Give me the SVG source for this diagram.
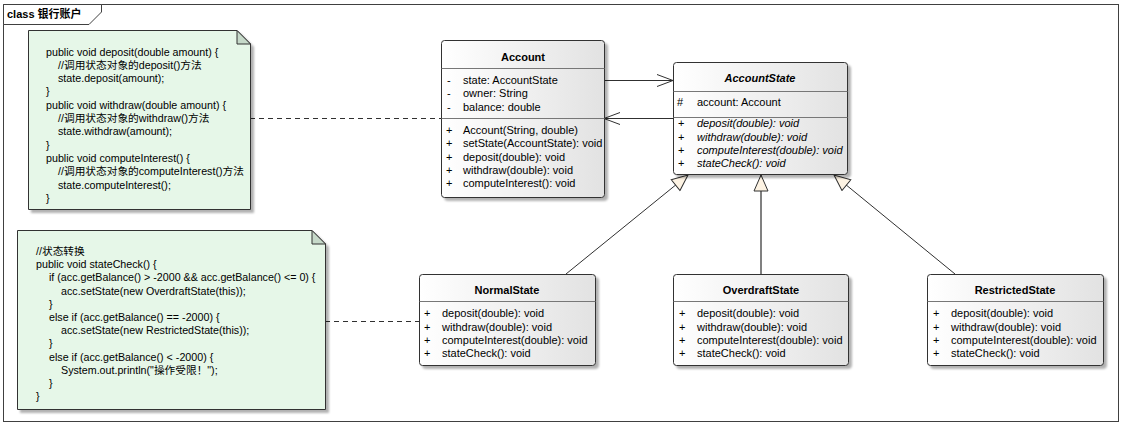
<svg xmlns="http://www.w3.org/2000/svg" width="1123" height="427" viewBox="0 0 1123 427">
  <defs>
    <linearGradient id="classFill" x1="0" y1="0" x2="1" y2="0">
      <stop offset="0" stop-color="#ffffff"/>
      <stop offset="1" stop-color="#e2e2e2"/>
    </linearGradient>
    <filter id="shadow" x="-5%" y="-5%" width="115%" height="115%">
      <feDropShadow dx="3" dy="3" stdDeviation="1" flood-color="#000" flood-opacity="0.3"/>
    </filter>
    <!-- hollow triangle for generalization -->
    <marker id="gen" markerUnits="userSpaceOnUse" markerWidth="18" markerHeight="16" viewBox="0 0 18 16" refX="17" refY="8" orient="auto">
      <path d="M1,1 L17,8 L1,15 Z" fill="#fdf3e3" stroke="#303030" stroke-width="1"/>
    </marker>
    <!-- open arrowhead for navigable association -->
    <marker id="open" markerUnits="userSpaceOnUse" markerWidth="18" markerHeight="14" viewBox="0 0 18 14" refX="17" refY="7" orient="auto">
      <path d="M1,1 L17,7 L1,13" fill="none" stroke="#303030" stroke-width="1"/>
    </marker>
  </defs>
  <style>
    text { font-family: "Liberation Sans", "Noto Sans CJK SC", sans-serif; font-size: 11px; fill: #000; }
    .title { font-weight: bold; text-anchor: middle; }
    .abstract { font-style: italic; }
    .note text { font-size: 10.7px; }
    .box { fill: url(#classFill); stroke: #333; stroke-width: 1; filter: url(#shadow); }
    .sep { stroke: #777; stroke-width: 1; }
    .noteBody { fill: #e6f7e8; stroke: #333; stroke-width: 1; filter: url(#shadow); }
    .fold { fill: #c6d9c9; stroke: #333; stroke-width: 1; }
    .line { stroke: #303030; stroke-width: 1; fill: none; }
    .dash { stroke: #303030; stroke-width: 1; fill: none; stroke-dasharray: 5 4; }
  </style>

  <rect width="1123" height="427" fill="#ffffff"/>

  <!-- diagram frame -->
  <g id="frame">
    <rect x="3.5" y="4.5" width="1115" height="417" fill="none" stroke="#404040"/>
    <path d="M3.5,4.5 H101.5 V12 L89,24.5 H3.5 Z" fill="#ffffff" stroke="#404040"/>
    <text x="7" y="18" font-weight="bold">class 银行账户</text>
  </g>

  <!-- connectors -->
  <g id="connectors">
    <line class="dash" x1="250" y1="118.5" x2="441" y2="118.5"/>
    <line class="dash" x1="325" y1="321.5" x2="419" y2="321.5"/>
    <line class="line" x1="604" y1="80.5" x2="673" y2="80.5" marker-end="url(#open)"/>
    <line class="line" x1="673" y1="118.5" x2="604" y2="118.5" marker-end="url(#open)"/>
    <line class="line" x1="566" y1="274" x2="688" y2="175" marker-end="url(#gen)"/>
    <line x1="761" y1="274" x2="761" y2="175" stroke="#808080" stroke-width="2" marker-end="url(#gen)"/>
    <line class="line" x1="955" y1="274" x2="834" y2="175" marker-end="url(#gen)"/>
  </g>

  <!-- note: Account operations -->
  <g id="note-account" class="note">
    <path class="noteBody" d="M28.5,30.5 H237 L250.5,44 V209.5 H28.5 Z"/>
    <path class="fold" d="M237,30.5 V44 H250.5 Z"/>
    <text x="46" y="55.5">public void deposit(double amount) {</text>
    <text x="58" y="68.8">//调用状态对象的deposit()方法</text>
    <text x="58" y="82.1">state.deposit(amount);</text>
    <text x="46" y="95.4">}</text>
    <text x="46" y="108.7">public void withdraw(double amount) {</text>
    <text x="58" y="122">//调用状态对象的withdraw()方法</text>
    <text x="58" y="135.3">state.withdraw(amount);</text>
    <text x="46" y="148.6">}</text>
    <text x="46" y="161.9">public void computeInterest()  {</text>
    <text x="58" y="175.2">//调用状态对象的computeInterest()方法</text>
    <text x="58" y="188.5">state.computeInterest();</text>
    <text x="46" y="201.8">}</text>
  </g>

  <!-- note: state transition -->
  <g id="note-statecheck" class="note">
    <path class="noteBody" d="M17.5,230.5 H312 L325.5,244 V409.5 H17.5 Z"/>
    <path class="fold" d="M312,230.5 V244 H325.5 Z"/>
    <text x="36" y="255">//状态转换</text>
    <text x="36" y="268.2">public void stateCheck() {</text>
    <text x="49" y="281.4">if (acc.getBalance() &gt; -2000 &amp;&amp; acc.getBalance() &lt;= 0) {</text>
    <text x="61" y="294.6">acc.setState(new OverdraftState(this));</text>
    <text x="49" y="307.7">}</text>
    <text x="49" y="320.9">else if (acc.getBalance() == -2000) {</text>
    <text x="61" y="334.1">acc.setState(new RestrictedState(this));</text>
    <text x="49" y="347.3">}</text>
    <text x="49" y="360.5">else if (acc.getBalance()  &lt; -2000) {</text>
    <text x="61" y="373.6">System.out.println("操作受限！");</text>
    <text x="49" y="386.8">}</text>
    <text x="36" y="400">}</text>
  </g>

  <!-- Account -->
  <g id="Account">
    <rect class="box" x="441.5" y="40.5" width="163" height="157" rx="3"/>
    <line class="sep" x1="441.5" y1="68.5" x2="604.5" y2="68.5" stroke-width="2"/>
    <line class="sep" x1="441.5" y1="118.5" x2="604.5" y2="118.5"/>
    <text class="title" x="523" y="60.5">Account</text>
    <text x="447" y="84">-</text><text x="463" y="84">state: AccountState</text>
    <text x="447" y="97.3">-</text><text x="463" y="97.3">owner: String</text>
    <text x="447" y="110.7">-</text><text x="463" y="110.7">balance: double</text>
    <text x="446" y="134">+</text><text x="463" y="134">Account(String, double)</text>
    <text x="446" y="147.3">+</text><text x="463" y="147.3">setState(AccountState): void</text>
    <text x="446" y="160.7">+</text><text x="463" y="160.7">deposit(double): void</text>
    <text x="446" y="174">+</text><text x="463" y="174">withdraw(double): void</text>
    <text x="446" y="187.3">+</text><text x="463" y="187.3">computeInterest(): void</text>
  </g>

  <!-- AccountState (abstract) -->
  <g id="AccountState">
    <rect class="box" x="673.5" y="62.5" width="174" height="112" rx="3"/>
    <line class="sep" x1="673.5" y1="91.5" x2="847.5" y2="91.5"/>
    <line class="sep" x1="673.5" y1="117.5" x2="847.5" y2="117.5"/>
    <text class="title abstract" x="760" y="82">AccountState</text>
    <text x="677" y="105.7">#</text><text x="697" y="105.7">account: Account</text>
    <text x="678" y="127.3">+</text><text class="abstract" x="697" y="127.3">deposit(double): void</text>
    <text x="678" y="140.7">+</text><text class="abstract" x="697" y="140.7">withdraw(double): void</text>
    <text x="678" y="154">+</text><text class="abstract" x="697" y="154">computeInterest(double): void</text>
    <text x="678" y="167.3">+</text><text class="abstract" x="697" y="167.3">stateCheck(): void</text>
  </g>

  <!-- NormalState -->
  <g id="NormalState">
    <rect class="box" x="419.5" y="274.5" width="176" height="91" rx="3"/>
    <line class="sep" x1="419.5" y1="301.5" x2="595.5" y2="301.5"/>
    <text class="title" x="507" y="294">NormalState</text>
    <text x="424" y="317.3">+</text><text x="442" y="317.3">deposit(double): void</text>
    <text x="424" y="330.7">+</text><text x="442" y="330.7">withdraw(double): void</text>
    <text x="424" y="344">+</text><text x="442" y="344">computeInterest(double): void</text>
    <text x="424" y="357.3">+</text><text x="442" y="357.3">stateCheck(): void</text>
  </g>

  <!-- OverdraftState -->
  <g id="OverdraftState">
    <rect class="box" x="673.5" y="274.5" width="175" height="91" rx="3"/>
    <line class="sep" x1="673.5" y1="301.5" x2="848.5" y2="301.5"/>
    <text class="title" x="761" y="294">OverdraftState</text>
    <text x="679" y="317.3">+</text><text x="697" y="317.3">deposit(double): void</text>
    <text x="679" y="330.7">+</text><text x="697" y="330.7">withdraw(double): void</text>
    <text x="679" y="344">+</text><text x="697" y="344">computeInterest(double): void</text>
    <text x="679" y="357.3">+</text><text x="697" y="357.3">stateCheck(): void</text>
  </g>

  <!-- RestrictedState -->
  <g id="RestrictedState">
    <rect class="box" x="927.5" y="274.5" width="176" height="91" rx="3"/>
    <line class="sep" x1="927.5" y1="301.5" x2="1103.5" y2="301.5"/>
    <text class="title" x="1015" y="294">RestrictedState</text>
    <text x="933" y="317.3">+</text><text x="951" y="317.3">deposit(double): void</text>
    <text x="933" y="330.7">+</text><text x="951" y="330.7">withdraw(double): void</text>
    <text x="933" y="344">+</text><text x="951" y="344">computeInterest(double): void</text>
    <text x="933" y="357.3">+</text><text x="951" y="357.3">stateCheck(): void</text>
  </g>
</svg>
